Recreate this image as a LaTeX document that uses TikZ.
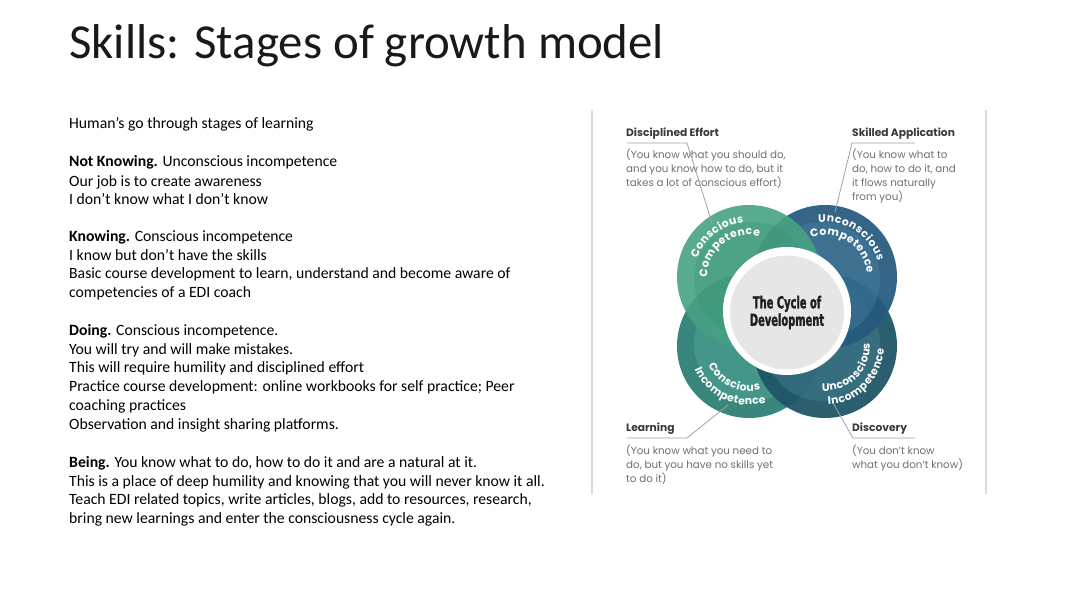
\documentclass[tikz,border=0pt]{standalone}
\usepackage{fontspec}
\setmainfont{Carlito}
\newfontfamily\gothic{Poppins}
\newfontfamily\cyclefont[FakeStretch=0.6, BoldFeatures={FakeBold=1.6}]{DejaVu Sans}
\usetikzlibrary{decorations.text}
\definecolor{tlc}{HTML}{46A283}
\definecolor{tlin}{HTML}{3C9276}
\definecolor{trc}{HTML}{255A7D}
\definecolor{trin}{HTML}{4A84A3}
\definecolor{blc}{HTML}{2F8176}
\definecolor{blin}{HTML}{55AAA0}
\definecolor{brc}{HTML}{205668}
\definecolor{brin}{HTML}{478797}
\definecolor{cgray}{HTML}{E6E6E6}
\definecolor{headc}{HTML}{3A3A3A}
\definecolor{descc}{HTML}{707070}
\definecolor{leadc}{HTML}{A3A3A3}
\definecolor{panelc}{HTML}{DADADA}
\newcommand\lobefont{\gothic\bfseries\fontsize{10.8}{12}\selectfont}
\newcommand\lsp{\kern0.5pt}
\begin{document}
\begin{tikzpicture}[x=1pt,y=1pt,
  body/.style={anchor=base west, inner sep=0pt, font=\fontsize{15.7}{18}\selectfont},
  head/.style={anchor=base west, inner sep=0pt, font=\gothic\bfseries\fontsize{10.7}{13}\selectfont, text=headc},
  desc/.style={anchor=base west, inner sep=0pt, font=\gothic\fontsize{10.3}{13}\selectfont, text=descc},
  leader/.style={draw=leadc, line width=0.8pt},
  panel/.style={draw=panelc, line width=2.5pt},
  lobetext/.style={decorate, decoration={text along path, text align=center, text color=white, text={|\lobefont|#1}}}]
\useasboundingbox (0,0) rectangle (1072,602);
\fill[white] (0,0) rectangle (1072,602);

% title
\node[anchor=base west, inner sep=0pt, font=\fontsize{48.9}{54}\selectfont, text=black!90] (title) at (69,543) {Skills: Stages of growth model};

% body text
\node[body] (b1) at (69,473) {Human’s go through stages of learning};
\node[body] (b2) at (69,435) {\textbf{Not Knowing.} Unconscious incompetence};
\node[body] (b3) at (69,415) {Our job is to create awareness};
\node[body] (b4) at (69,397) {I don’t know what I don’t know};
\node[body] (b5) at (69,360) {\textbf{Knowing.} Conscious incompetence};
\node[body] (b6) at (69,341) {I know but don’t have the skills};
\node[body] (b7) at (69,323) {Basic course development to learn, understand and become aware of};
\node[body] (b8) at (69,304) {competencies of a EDI coach};
\node[body] (b9) at (69,266) {\textbf{Doing.} Conscious incompetence.};
\node[body] (b10) at (69,247) {You will try and will make mistakes.};
\node[body] (b11) at (69,229) {This will require humility and disciplined effort};
\node[body] (b12) at (69,210) {Practice course development: online workbooks for self practice; Peer};
\node[body] (b13) at (69,191) {coaching practices};
\node[body] (b14) at (69,172) {Observation and insight sharing platforms.};
\node[body] (b15) at (69,134) {\textbf{Being.} You know what to do, how to do it and are a natural at it.};
\node[body] (b16) at (69,115) {This is a place of deep humility and knowing that you will never know it all.};
\node[body] (b17) at (69,97) {Teach EDI related topics, write articles, blogs, add to resources, research,};
\node[body] (b18) at (69,78) {bring new learnings and enter the consciousness cycle again.};

% panel borders
\coordinate (p1a) at (592,492); \coordinate (p1b) at (592,108);
\coordinate (p2a) at (986,492); \coordinate (p2b) at (986,108);
\draw[panel] (p1a) -- (p1b);
\draw[panel] (p2a) -- (p2b);

% lobes
\coordinate (C) at (787,291);
\coordinate (TL) at (749,325);
\coordinate (TR) at (825,325);
\coordinate (BL) at (749,256);
\coordinate (BR) at (825,256);

\fill[blc, fill opacity=0.95] (BL) circle[radius=72];
\fill[blin, fill opacity=0.4] ([shift={(3,3)}]BL) circle[radius=58];
\fill[brc, fill opacity=0.95] (BR) circle[radius=72];
\fill[brin, fill opacity=0.4] ([shift={(-3,3)}]BR) circle[radius=58];
\fill[trc, fill opacity=0.93] (TR) circle[radius=72];
\fill[trin, fill opacity=0.4] ([shift={(-3,-3)}]TR) circle[radius=58];
\fill[tlc, fill opacity=0.9] (TL) circle[radius=72];
\fill[tlin, fill opacity=0.35] ([shift={(3,-3)}]TL) circle[radius=58];

% center
\node[circle, fill=white, minimum size=128pt, inner sep=0pt] (ring) at (C) {};
\node[circle, fill=cgray, minimum size=114pt, inner sep=0pt, align=center,
      font=\cyclefont\bfseries\fontsize{16.5}{17.5}\selectfont, text=black!88] (core) at ([yshift=-1.5]C) {The Cycle of\\Development};

% lobe texts
\path[lobetext={{C\lsp}{o\lsp}{n\lsp}{s\lsp}{c\lsp}{i\lsp}{o\lsp}{u\lsp}{s}}] ([shift={(198:55)}]TL) arc[start angle=198, end angle=58, radius=55];
\path[lobetext={{C\lsp}{o\lsp}{m\lsp}{p\lsp}{e\lsp}{t\lsp}{e\lsp}{n\lsp}{c\lsp}{e}}] ([shift={(198:42)}]TL) arc[start angle=198, end angle=58, radius=42];
\path[lobetext={{U\lsp}{n\lsp}{c\lsp}{o\lsp}{n\lsp}{s\lsp}{c\lsp}{i\lsp}{o\lsp}{u\lsp}{s}}] ([shift={(127:55)}]TR) arc[start angle=127, end angle=-13, radius=55];
\path[lobetext={{C\lsp}{o\lsp}{m\lsp}{p\lsp}{e\lsp}{t\lsp}{e\lsp}{n\lsp}{c\lsp}{e}}] ([shift={(127:42)}]TR) arc[start angle=127, end angle=-13, radius=42];
\path[lobetext={{C\lsp}{o\lsp}{n\lsp}{s\lsp}{c\lsp}{i\lsp}{o\lsp}{u\lsp}{s}}] ([shift={(175:45)}]BL) arc[start angle=175, end angle=315, radius=45];
\path[lobetext={{I\lsp}{n\lsp}{c\lsp}{o\lsp}{m\lsp}{p\lsp}{e\lsp}{t\lsp}{e\lsp}{n\lsp}{c\lsp}{e}}] ([shift={(175:59)}]BL) arc[start angle=175, end angle=315, radius=59];
\path[lobetext={{U\lsp}{n\lsp}{c\lsp}{o\lsp}{n\lsp}{s\lsp}{c\lsp}{i\lsp}{o\lsp}{u\lsp}{s}}] ([shift={(245:45)}]BR) arc[start angle=245, end angle=385, radius=45];
\path[lobetext={{I\lsp}{n\lsp}{c\lsp}{o\lsp}{m\lsp}{p\lsp}{e\lsp}{t\lsp}{e\lsp}{n\lsp}{c\lsp}{e}}] ([shift={(245:59)}]BR) arc[start angle=245, end angle=385, radius=59];

% labels
\node[head] (de) at (626,465) {Disciplined Effort};
\node[desc] (de1) at (626,443.5) {(You know what you should do,};
\node[desc] (de2) at (626,429.5) {and you know how to do, but it};
\node[desc] (de3) at (626,415.5) {takes a lot of conscious effort)};

\node[head] (sa) at (852,465) {Skilled Application};
\node[desc] (sa1) at (852,443.5) {(You know what to};
\node[desc] (sa2) at (852,429.5) {do, how to do it, and};
\node[desc] (sa3) at (852,415.5) {it flows naturally};
\node[desc] (sa4) at (852,401.5) {from you)};

\node[head] (le) at (626,170) {Learning};
\node[desc] (le1) at (626,147) {(You know what you need to};
\node[desc] (le2) at (626,133) {do, but you have no skills yet};
\node[desc] (le3) at (626,119) {to do it)};

\node[head] (di) at (852,170) {Discovery};
\node[desc] (di1) at (852,147) {(You don’t know};
\node[desc] (di2) at (852,133) {what you don’t know)};

% leaders
\coordinate (deL) at (627,459); \coordinate (deR) at (687,459); \coordinate (deE) at (712,379);
\coordinate (saR) at (915,459); \coordinate (saL) at (852,459); \coordinate (saE) at (835,390);
\coordinate (leL) at (627,164); \coordinate (leR) at (687,164); \coordinate (leE) at (728,197);
\coordinate (diR) at (915,164); \coordinate (diL) at (853,164); \coordinate (diE) at (833,199);
\draw[leader] (deL) -- (deR) -- (deE);
\draw[leader] (saR) -- (saL) -- (saE);
\draw[leader] (leL) -- (leR) -- (leE);
\draw[leader] (diR) -- (diL) -- (diE);
\end{tikzpicture}
\end{document}
